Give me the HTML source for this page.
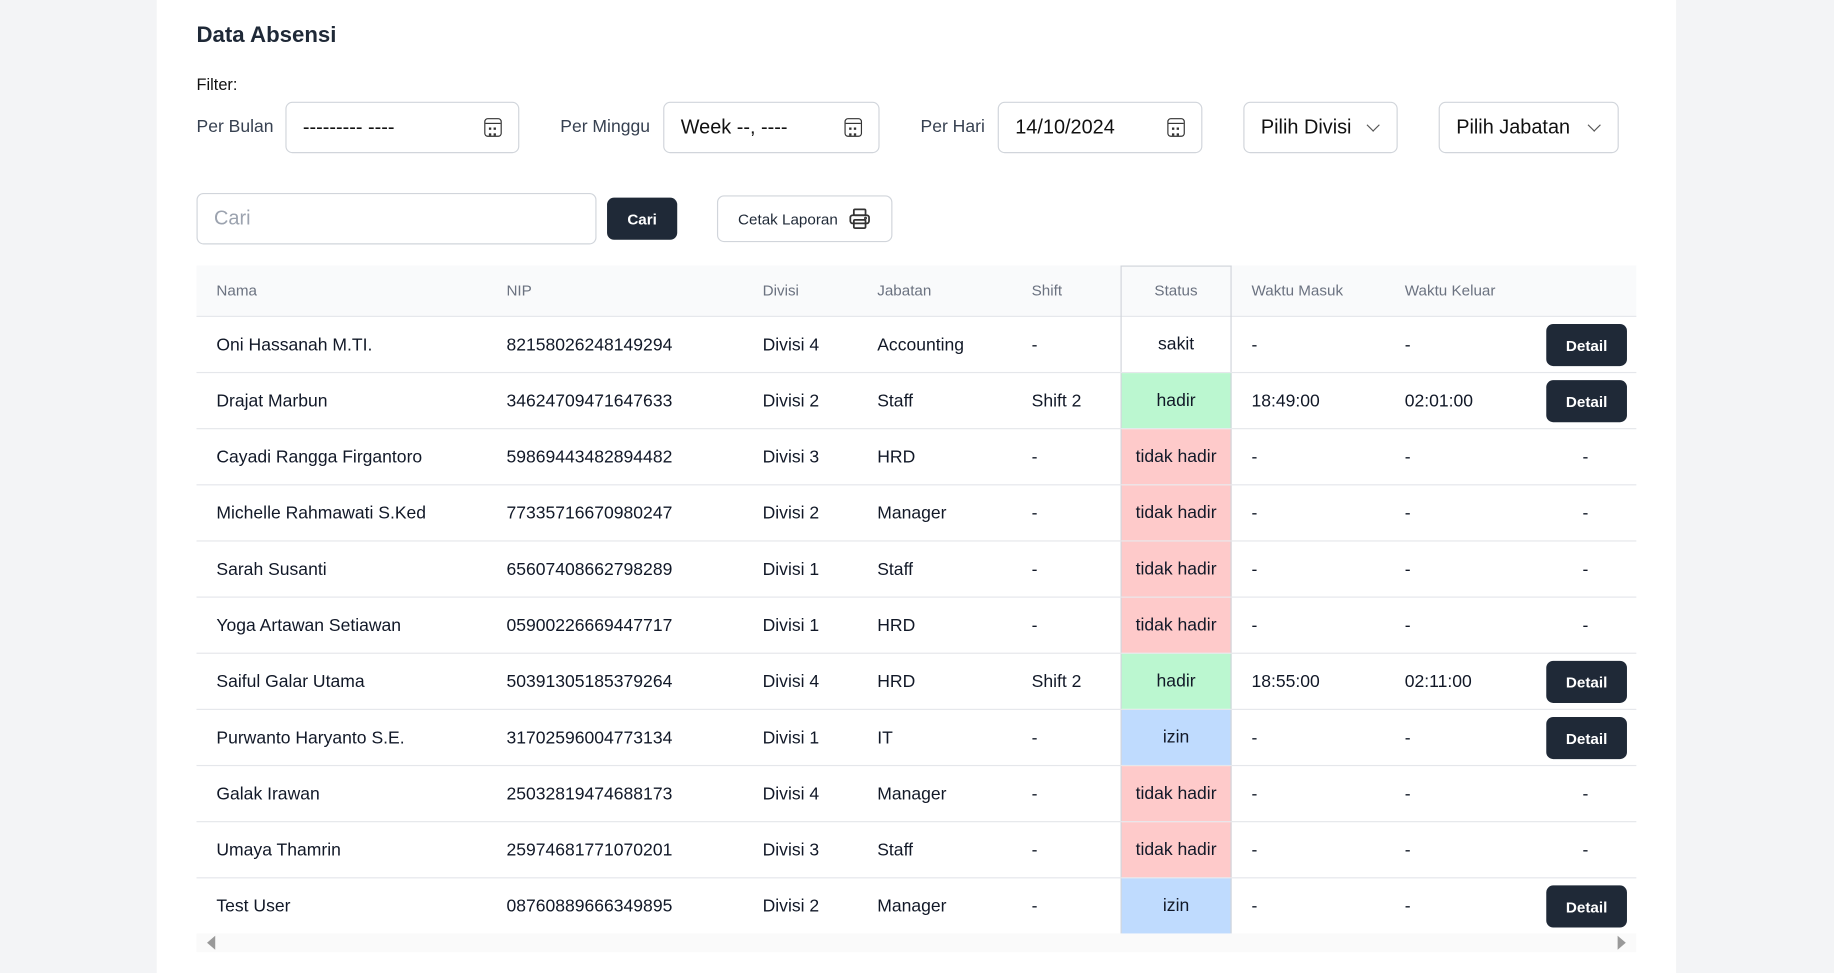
<!DOCTYPE html>
<html><head><meta charset="utf-8">
<style>
*{box-sizing:border-box;margin:0;padding:0}
html,body{width:1834px;height:973px;overflow:hidden;background:#f3f4f6;font-family:"Liberation Sans",sans-serif;color:#111827}
#w{position:absolute;left:0;top:0;width:1568px;height:832px;transform:scale(1.16964);transform-origin:0 0}
.a{position:absolute}
.card{left:134px;top:0;width:1299px;height:832px;background:#fff}
.inp{border:1px solid #d1d5db;border-radius:6px;background:#fff;height:44px;display:flex;align-items:center;padding-left:14px;font-size:17px;color:#111}
.lbl{font-size:15px;color:#374151}
.cal{position:absolute;right:14px;top:13px;width:15px;height:16px;border:1.6px solid #333;border-radius:3px}
.cal:before{content:"";position:absolute;left:0;right:0;top:3px;border-top:1.4px solid #333}
.cal:after{content:"";position:absolute;left:3px;top:7px;width:6px;height:3px;border-top:2px dotted #333;border-bottom:2px dotted #333}
.chev{position:absolute;right:16px;top:15px;width:8px;height:8px;border-right:1.6px solid #555;border-bottom:1.6px solid #555;transform:rotate(45deg)}
.btn{background:#1f2937;color:#fff;border-radius:6px;font-weight:bold;font-size:13px;display:flex;align-items:center;justify-content:center}
.hdr{left:168px;top:227px;width:1231px;height:44px;background:#f9fafb;border-bottom:1px solid #e5e7eb}
.h{position:absolute;top:248px;font-size:13px;color:#6b7280;line-height:1;transform:translateY(-50%)}
.row{position:absolute;left:168px;width:1231px;height:48px;border-bottom:1px solid #e5e7eb;font-size:15px}
.row span{position:absolute;top:50%;transform:translateY(-50%);white-space:nowrap}
.st{position:absolute;left:790px;width:95px;top:0;height:100%;display:flex;align-items:center;justify-content:center;border-left:1px solid #d1d5db;border-right:1px solid #d1d5db}
.det{position:absolute;left:1154px;top:6px;width:69px;height:36px}
</style></head><body><div id="w">
<div class="a card"></div>
<div class="a" style="left:168px;top:20px;font-size:19px;font-weight:bold;color:#1f2937">Data Absensi</div>
<div class="a lbl" style="left:168px;top:64px;font-size:14px;color:#111">Filter:</div>
<div class="a lbl" style="left:168px;top:100px">Per Bulan</div>
<div class="a inp" style="left:244px;top:87px;width:200px">--------- ----<div class="cal"></div></div>
<div class="a lbl" style="left:479px;top:100px">Per Minggu</div>
<div class="a inp" style="left:567px;top:87px;width:185px">Week --, ----<div class="cal"></div></div>
<div class="a lbl" style="left:787px;top:100px">Per Hari</div>
<div class="a inp" style="left:853px;top:87px;width:175px">14/10/2024<div class="cal"></div></div>
<div class="a inp" style="left:1063px;top:87px;width:132px">Pilih Divisi<div class="chev"></div></div>
<div class="a inp" style="left:1230px;top:87px;width:154px">Pilih Jabatan<div class="chev"></div></div>
<div class="a inp" style="left:168px;top:165px;width:342px;color:#9ca3af">Cari</div>
<div class="a btn" style="left:519px;top:169px;width:60px;height:36px">Cari</div>
<div class="a" style="left:613px;top:167px;width:150px;height:40px;border:1px solid #d1d5db;border-radius:6px;font-size:13px;display:flex;align-items:center;padding-left:17px;color:#1f2937">Cetak Laporan
<svg width="20" height="20" viewBox="0 0 20 20" style="margin-left:9px" fill="none" stroke="#333" stroke-width="1.5"><rect x="5" y="2" width="10" height="5" rx="1"/><rect x="2" y="7" width="16" height="7" rx="2"/><rect x="5" y="11" width="10" height="7" rx="1"/><circle cx="15" cy="9.5" r=".5"/></svg></div>
<div class="a hdr"></div>
<div class="a" style="left:958px;top:227px;width:95px;height:44px;border:1px solid #d1d5db;border-bottom:none"></div>
<div class="h" style="left:185px">Nama</div><div class="h" style="left:433px">NIP</div><div class="h" style="left:652px">Divisi</div><div class="h" style="left:750px">Jabatan</div><div class="h" style="left:882px">Shift</div><div class="h" style="left:987px">Status</div><div class="h" style="left:1070px">Waktu Masuk</div><div class="h" style="left:1201px">Waktu Keluar</div>
<div id="rows"></div>
<div class="a" style="left:168px;top:798px;width:1231px;height:16px;background:#fafafa"></div>
<div class="a" style="left:177px;top:800px;width:0;height:0;border-top:6px solid transparent;border-bottom:6px solid transparent;border-right:7px solid #999"></div>
<div class="a" style="left:1383px;top:800px;width:0;height:0;border-top:6px solid transparent;border-bottom:6px solid transparent;border-left:7px solid #999"></div>
</div>
<script>
var d=[["Oni Hassanah M.TI.","82158026248149294","Divisi 4","Accounting","-","sakit","-","-",1],
["Drajat Marbun","34624709471647633","Divisi 2","Staff","Shift 2","hadir","18:49:00","02:01:00",1],
["Cayadi Rangga Firgantoro","59869443482894482","Divisi 3","HRD","-","tidak hadir","-","-",0],
["Michelle Rahmawati S.Ked","77335716670980247","Divisi 2","Manager","-","tidak hadir","-","-",0],
["Sarah Susanti","65607408662798289","Divisi 1","Staff","-","tidak hadir","-","-",0],
["Yoga Artawan Setiawan","05900226669447717","Divisi 1","HRD","-","tidak hadir","-","-",0],
["Saiful Galar Utama","50391305185379264","Divisi 4","HRD","Shift 2","hadir","18:55:00","02:11:00",1],
["Purwanto Haryanto S.E.","31702596004773134","Divisi 1","IT","-","izin","-","-",1],
["Galak Irawan","25032819474688173","Divisi 4","Manager","-","tidak hadir","-","-",0],
["Umaya Thamrin","25974681771070201","Divisi 3","Staff","-","tidak hadir","-","-",0],
["Test User","08760889666349895","Divisi 2","Manager","-","izin","-","-",1]];
var c={"sakit":"#fff","hadir":"#bbf7d0","tidak hadir":"#fecaca","izin":"#bfdbfe"};
var x=[17,265,484,582,714],h="";
d.forEach(function(r,i){
var s='<div class="row" style="top:'+(271+i*48)+'px'+(i==10?';border-bottom:none':'')+'">';
for(var k=0;k<5;k++)s+='<span style="left:'+x[k]+'px">'+r[k]+'</span>';
s+='<div class="st" style="background:'+c[r[5]]+(i==10?';border-bottom:1px solid #93c5fd':'')+'">'+r[5]+'</div>';
s+='<span style="left:902px">'+r[6]+'</span><span style="left:1033px">'+r[7]+'</span>';
s+=r[8]?'<div class="btn det">Detail</div>':'<span style="left:1185px">-</span>';
h+=s+'</div>';});
document.getElementById('rows').innerHTML=h;
</script>
</body></html>
